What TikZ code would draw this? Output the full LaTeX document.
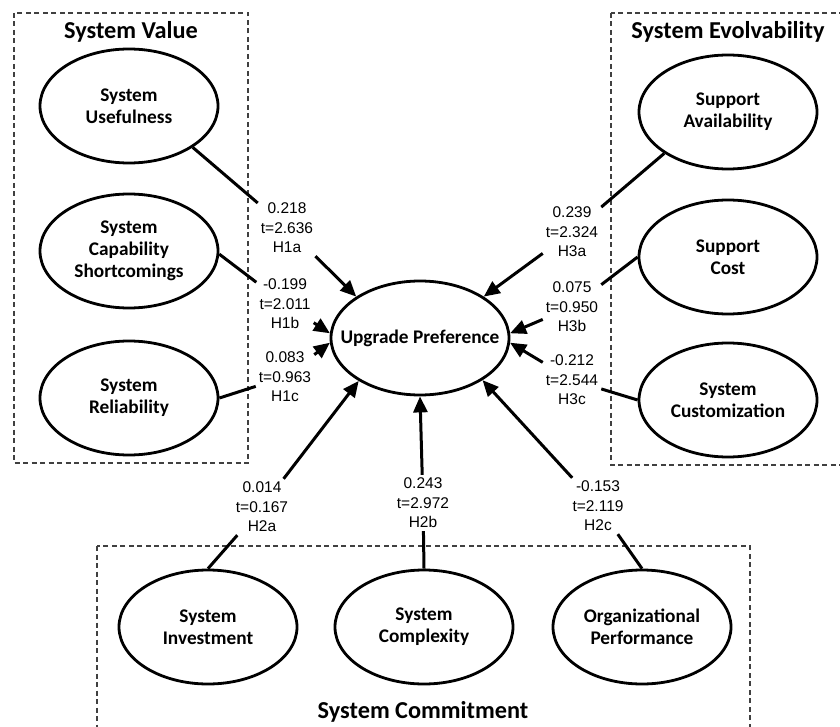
\documentclass[tikz,border=0pt]{standalone}
\usepackage{fontspec}
\setmainfont{Liberation Sans}
\newfontfamily\calibri{Carlito}
\usetikzlibrary{shapes.geometric,arrows.meta}

\tikzset{
  latent/.style={draw, ellipse, line width=2.8pt, minimum width=178pt, minimum height=114pt,
    inner sep=0pt, align=center, font=\calibri\bfseries\fontsize{19.3}{22}\selectfont},
  hyp/.style={align=center, inner sep=3pt, font=\fontsize{15.5}{19.5}\selectfont},
  group/.style={draw=black!75, dash pattern=on 5pt off 3.5pt, line width=1.2pt},
  grouptitle/.style={anchor=base, font=\calibri\bfseries\fontsize{24.3}{28}\selectfont},
  link/.style={line width=3pt},
  effect/.style={line width=3pt, -{Triangle[length=16pt,width=14pt]}}
}

\begin{document}
\begin{tikzpicture}[x=1pt,y=-1pt]
    \useasboundingbox (0,0) rectangle (840,727);
    % groups
    \draw[group] (14,13) rectangle (248,463);
    \draw[group] (611,13) rectangle (845,465);
    \draw[group] (97,546) rectangle (750,740);
    \node[grouptitle] (tvalue) at (131,39) {System Value};
    \node[grouptitle] (tevolv) at (728,39) {System Evolvability};
    \node[grouptitle] (tcommit) at (423,718) {System Commitment};
    % constructs
    \node[latent, inner xsep=-17pt] (up) at (420,338) {Upgrade Preference};
    \node[latent] (use) at (129,106) {System\\Usefulness};
    \node[latent] (cap) at (129,251) {System\\Capability\\Shortcomings};
    \node[latent] (rel) at (129,398) {System\\Reliability};
    \node[latent] (avail) at (728,112) {Support\\Availability};
    \node[latent] (cost) at (728,257) {Support\\Cost};
    \node[latent] (cust) at (728,400) {System\\Customization};
    \node[latent] (inv) at (208,627) {System\\Investment};
    \node[latent] (cplx) at (424,627) {System\\Complexity};
    \node[latent] (perf) at (642,627) {Organizational\\Performance};
    % path coefficients
    \node[hyp] (h1a) at (287,228) {0.218\\t=2.636\\H1a};
    \node[hyp] (h1b) at (285,304) {-0.199\\t=2.011\\H1b};
    \node[hyp] (h1c) at (285,377) {0.083\\t=0.963\\H1c};
    \node[hyp] (h3a) at (572,232) {0.239\\t=2.324\\H3a};
    \node[hyp] (h3b) at (572,307) {0.075\\t=0.950\\H3b};
    \node[hyp] (h3c) at (572,380) {-0.212\\t=2.544\\H3c};
    \node[hyp] (h2a) at (262,507) {0.014\\t=0.167\\H2a};
    \node[hyp] (h2b) at (423,503) {0.243\\t=2.972\\H2b};
    \node[hyp] (h2c) at (598,506) {-0.153\\t=2.119\\H2c};
    % paths
    \draw[link] (use.327) -- (h1a);
    \draw[effect] (h1a) -- (up.147);
    \draw[link] (cap.358) -- (h1b);
    \draw[effect] (h1b) -- (up.177);
    \draw[link] (rel.east) -- (h1c);
    \draw[effect] (h1c) -- (up.183);
    \draw[link] (avail.213) -- (h3a);
    \draw[effect] (h3a) -- (up.33);
    \draw[link] (cost.west) -- (h3b);
    \draw[effect] (h3b) -- (up.3);
    \draw[link] (cust.west) -- (h3c);
    \draw[effect] (h3c) -- (up.357);
    \draw[link] (inv.north) -- (h2a);
    \draw[effect] (h2a) -- (up.215);
    \draw[link] (cplx.north) -- (h2b);
    \draw[effect] (h2b) -- (up.270);
    \draw[link] (perf.north) -- (h2c);
    \draw[effect] (h2c) -- (up.326);
\end{tikzpicture}
\end{document}
